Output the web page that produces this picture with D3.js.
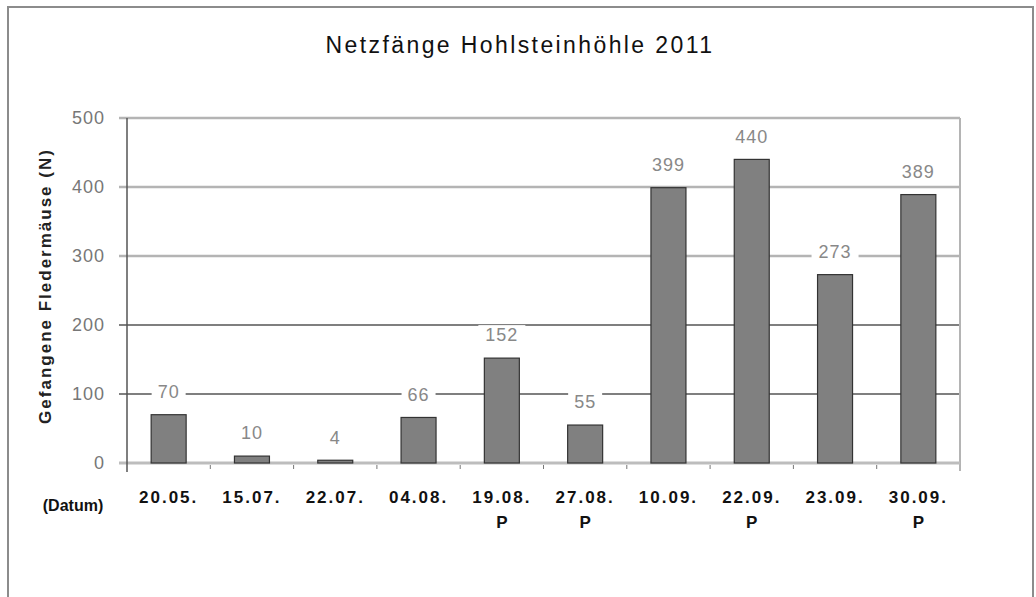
<!DOCTYPE html>
<html>
<head>
<meta charset="utf-8">
<script src="https://cdn.jsdelivr.net/npm/d3@7"></script>
<style>
  body { margin: 0; background: #fff; }
  text { font-family: "Liberation Sans", Arial, sans-serif; }
</style>
</head>
<body>
<script>
// Chart data
let dates = ['20.05.', '15.07.', '22.07.', '04.08.', '19.08.', '27.08.', '10.09.', '22.09.', '23.09.', '30.09.']
let subLabels = ['', '', '', '', 'P', 'P', '', 'P', '', 'P']
let catches = [70, 10, 4, 66, 152, 55, 399, 440, 273, 389]
let yTicks = [0, 100, 200, 300, 400, 500]

let width = 1036
let height = 597

let margin = { left: 127, top: 118, right: 76, bottom: 134 }
let chartWidth = width - margin.left - margin.right
let chartHeight = height - margin.top - margin.bottom

let svg = d3.select('body')
    .append('svg')
    .attr('width', width)
    .attr('height', height)

// outer frame
svg.append('rect')
    .attr('x', 8).attr('y', 7)
    .attr('width', 1025).attr('height', 620)
    .attr('fill', 'none')
    .attr('stroke', '#8c8c8c')
    .attr('stroke-width', 2)

svg.append('text')
    .attr('x', 520).attr('y', 53)
    .attr('text-anchor', 'middle')
    .attr('font-size', 23)
    .attr('letter-spacing', 2.4)
    .attr('fill', '#111')
    .text('Netzfänge Hohlsteinhöhle 2011')

let chartGroup = svg.append('g')
    .attr('transform', `translate(${margin.left}, ${margin.top})`)

let xScale = d3.scaleBand()
    .domain(dates)
    .range([0, chartWidth])
    .paddingInner(0.58)
    .paddingOuter(0.29)

let yScale = d3.scaleLinear()
    .domain([0, 500])
    .range([chartHeight, 0])

// gridlines
chartGroup.selectAll('.grid')
    .data(yTicks.filter(d => d > 0))
    .join('line')
    .attr('class', 'grid')
    .attr('x1', -8).attr('x2', chartWidth)
    .attr('y1', d => yScale(d)).attr('y2', d => yScale(d))
    .attr('stroke', d => d <= 200 ? '#555' : '#b4b4b4')
    .attr('stroke-width', d => d <= 200 ? 1.5 : 2.5)

// right border of plot area
chartGroup.append('line')
    .attr('x1', chartWidth).attr('x2', chartWidth)
    .attr('y1', 0).attr('y2', chartHeight + 8)
    .attr('stroke', '#b4b4b4').attr('stroke-width', 2)

// y axis
let yAxis = d3.axisLeft(yScale).tickValues(yTicks).tickSize(8).tickPadding(14)
let yG = chartGroup.append('g').call(yAxis)
yG.select('.domain').remove()
yG.selectAll('.tick line').attr('stroke', 'none')
yG.selectAll('.tick text')
    .attr('font-size', 18)
    .attr('letter-spacing', 1)
    .attr('fill', '#777')
    .attr('font-family', '"Liberation Sans", Arial, sans-serif')

// zero line
chartGroup.append('line')
    .attr('x1', -8).attr('x2', chartWidth)
    .attr('y1', chartHeight).attr('y2', chartHeight)
    .attr('stroke', '#bdbdbd').attr('stroke-width', 3)

chartGroup.append('line')
    .attr('x1', 0).attr('x2', 0)
    .attr('y1', 0).attr('y2', chartHeight + 9)
    .attr('stroke', '#555').attr('stroke-width', 1.5)

// small ticks between categories
let gap = (xScale.step() - xScale.bandwidth()) / 2
chartGroup.selectAll('.xtick')
    .data(dates.slice(1))
    .join('line')
    .attr('class', 'xtick')
    .attr('x1', d => xScale(d) - gap)
    .attr('x2', d => xScale(d) - gap)
    .attr('y1', chartHeight + 2).attr('y2', chartHeight + 6)
    .attr('stroke', '#777').attr('stroke-width', 1)

// bars
chartGroup.selectAll('.bar')
    .data(catches)
    .join('rect')
    .attr('class', 'bar')
    .attr('x', (d, i) => xScale(dates[i]))
    .attr('y', d => yScale(d))
    .attr('width', xScale.bandwidth())
    .attr('height', d => chartHeight - yScale(d))
    .attr('fill', '#808080')
    .attr('stroke', '#333')
    .attr('stroke-width', 1.2)

// value labels with white backing
let labels = chartGroup.selectAll('.val')
    .data(catches)
    .join('g')
    .attr('class', 'val')
    .attr('transform', (d, i) => `translate(${xScale(dates[i]) + xScale.bandwidth() / 2}, ${yScale(d) - 23})`)

labels.append('rect')
    .attr('x', d => -String(d).length * 6.5 - 4)
    .attr('y', -10)
    .attr('width', d => String(d).length * 13 + 8)
    .attr('height', 20)
    .attr('fill', '#fff')

labels.append('text')
    .attr('text-anchor', 'middle')
    .attr('dy', '0.35em')
    .attr('font-size', 18)
    .attr('letter-spacing', 1)
    .attr('fill', '#888')
    .text(d => d)

// category labels
let catLabels = chartGroup.selectAll('.cat')
    .data(dates)
    .join('g')
    .attr('class', 'cat')
    .attr('transform', d => `translate(${xScale(d) + xScale.bandwidth() / 2}, ${chartHeight})`)

catLabels.append('text')
    .attr('y', 40)
    .attr('text-anchor', 'middle')
    .attr('font-size', 17)
    .attr('font-weight', 'bold')
    .attr('letter-spacing', 2)
    .attr('fill', '#111')
    .text(d => d)

catLabels.append('text')
    .attr('y', 65)
    .attr('text-anchor', 'middle')
    .attr('font-size', 17)
    .attr('font-weight', 'bold')
    .attr('fill', '#111')
    .text((d, i) => subLabels[i])

svg.append('text')
    .attr('x', 73).attr('y', 511)
    .attr('text-anchor', 'middle')
    .attr('font-size', 16)
    .attr('font-weight', 'bold')
    .attr('fill', '#111')
    .text('(Datum)')

svg.append('text')
    .attr('transform', 'translate(51, 286) rotate(-90)')
    .attr('text-anchor', 'middle')
    .attr('font-size', 17)
    .attr('font-weight', 'bold')
    .attr('letter-spacing', 2)
    .attr('fill', '#222')
    .text('Gefangene Fledermäuse (N)')
</script>
</body>
</html>
